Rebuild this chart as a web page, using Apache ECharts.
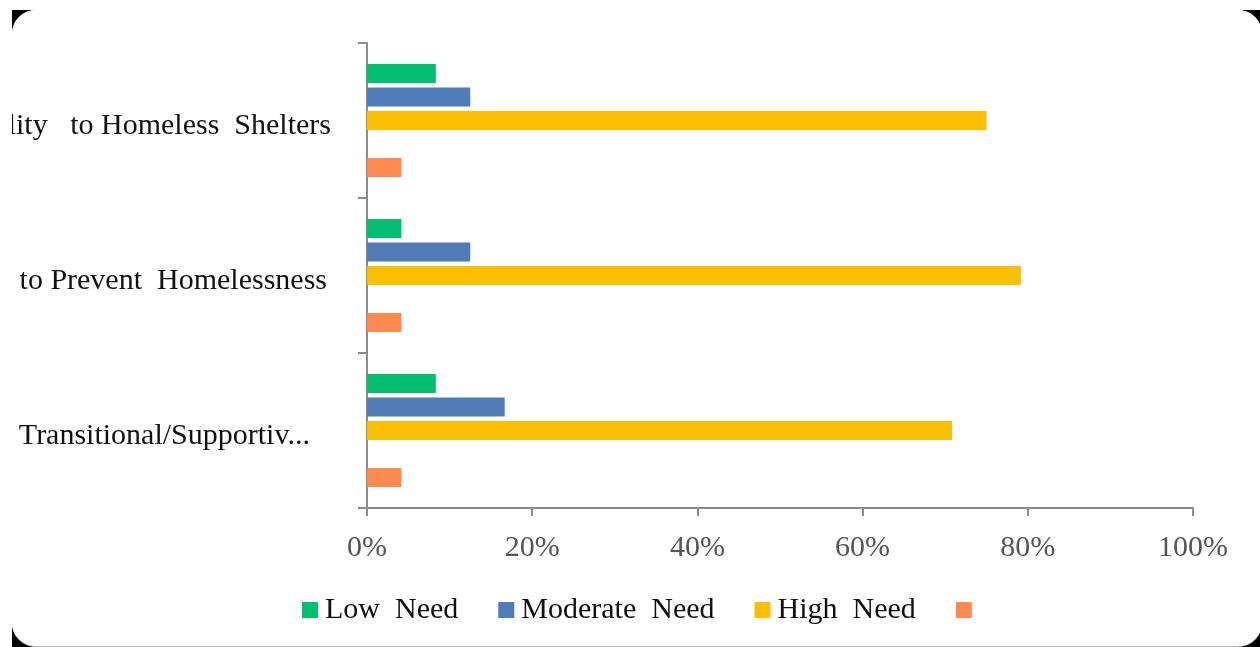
<!DOCTYPE html>
<html>
<head>
<meta charset="utf-8">
<script src="https://cdn.jsdelivr.net/npm/echarts@6/dist/echarts.min.js"></script>
<style>
  html, body { margin: 0; padding: 0; background: #ffffff; width: 1260px; height: 647px; overflow: hidden; }
  #frame { position: absolute; left: 12px; top: 10px; width: 1260px; height: 650px; background: #000000; }
  #card { position: absolute; left: 0; top: 0; width: 1250px; height: 636px; background: #ffffff; border-radius: 24px; border-bottom: 1px solid #b8b8b8; overflow: hidden; }
  #chart { position: absolute; left: 0; top: 0; width: 1248px; height: 637px; }
</style>
</head>
<body>
<div id="frame"><div id="card"><div id="chart"></div></div></div>
<script>
// Categories listed bottom-to-top (as on a category y-axis)
const categories = ['Transitional/Supportiv...', 'to Prevent  Homelessness', 'Accessibility   to Homeless  Shelters'];
const lowNeed      = [8.33, 4.17, 8.33];
const moderateNeed = [16.67, 12.5, 12.5];
const highNeed     = [70.83, 79.17, 75.0];
const blankSlot    = [0, 0, 0];
const unnamed      = [4.17, 4.17, 4.17];
const xTicks = [0, 20, 40, 60, 80, 100];
const legendNames = ['Low Need', 'Moderate Need', 'High Need', ' '];

const serif = '"Liberation Serif", "Times New Roman", serif';
const chart = echarts.init(document.getElementById('chart'), null, { renderer: 'canvas' });

const labelKey = {};
labelKey[categories[0]] = 'b';
labelKey[categories[1]] = 'm';
labelKey[categories[2]] = 't';

function bar(name, data, color) {
  return {
    name: name, type: 'bar', data: data,
    barWidth: 19, barGap: '24%',
    itemStyle: { color: color },
    emphasis: { disabled: true },
    silent: true
  };
}

chart.setOption({
  animation: false,
  backgroundColor: '#ffffff',
  grid: { left: 355, top: 33, right: 67, bottom: 139, containLabel: false, outerBoundsMode: 'none' },
  legend: {
    data: legendNames,
    left: 285, top: 580,
    icon: 'rect', itemWidth: 16, itemHeight: 16, itemGap: 40,
    formatter: function (n) { return n.replace(' Need', '  Need'); },
    textStyle: { fontFamily: serif, fontSize: 30, color: '#111111', padding: [0, 0, 0, 2] },
    selectedMode: false
  },
  xAxis: {
    type: 'value', min: 0, max: 100, interval: 20,
    axisLine: { show: true, lineStyle: { color: '#8c8c8c', width: 2 } },
    axisTick: { show: true, length: 8, lineStyle: { color: '#8c8c8c', width: 2 } },
    splitLine: { show: false },
    axisLabel: {
      margin: 25, fontFamily: serif, fontSize: 30, color: '#555555',
      formatter: function (v) { return xTicks.indexOf(v) >= 0 ? v + '%' : ''; }
    }
  },
  yAxis: {
    type: 'category', data: categories,
    axisLine: { show: true, lineStyle: { color: '#8c8c8c', width: 2 } },
    axisTick: { show: true, length: 9, lineStyle: { color: '#8c8c8c', width: 2 } },
    axisLabel: {
      align: 'right', margin: 36,
      fontFamily: serif, fontSize: 30, color: '#111111',
      formatter: function (v) { return '{' + labelKey[v] + '|' + v + '}'; },
      rich: {
        t: { fontFamily: serif, fontSize: 30, color: '#111111', padding: [12, 0, 0, 0] },
        m: { fontFamily: serif, fontSize: 30, color: '#111111', padding: [12, 4, 0, 0] },
        b: { fontFamily: serif, fontSize: 30, color: '#111111', padding: [12, 21, 0, 0] }
      }
    }
  },
  series: [
    bar('Low Need', lowNeed, '#00BF6F'),
    bar('Moderate Need', moderateNeed, '#4F7CB6'),
    bar('High Need', highNeed, '#F9BF00'),
    bar('blank', blankSlot, 'rgba(0,0,0,0)'),
    bar(' ', unnamed, '#FF8A4E')
  ]
});
</script>
</body>
</html>
